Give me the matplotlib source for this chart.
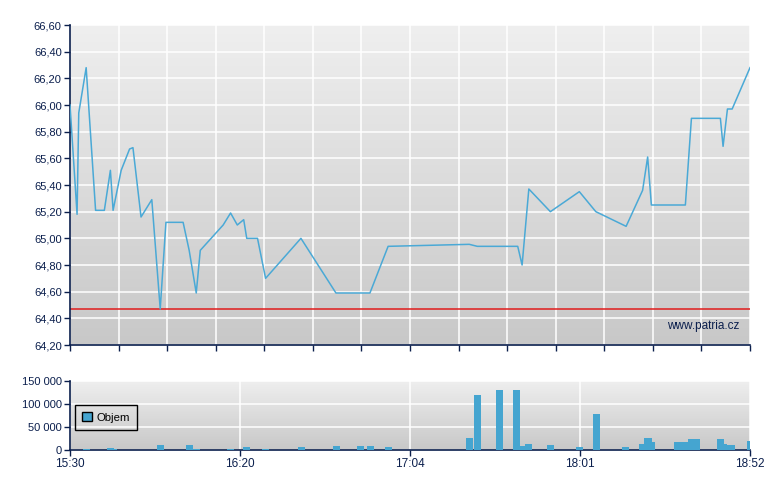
import numpy as np
import matplotlib
matplotlib.use('Agg')
import matplotlib.pyplot as plt
from matplotlib.ticker import FuncFormatter
from matplotlib.patches import Patch
from matplotlib.colors import LinearSegmentedColormap

# minutes since 15:30 (session runs 15:30 - 18:52)
price_t = [0, 2.1, 2.6, 4.8, 7.6, 10.2, 12.0, 12.8, 15.2, 17.7, 18.7, 21.1, 24.3,
           26.8, 28.5, 33.6, 35.4, 37.5, 38.7, 45.5, 47.7, 49.7, 51.6, 52.5, 55.7,
           58.1, 68.6, 79.0, 89.1, 94.5, 118.6, 121.0, 133.0, 134.3, 136.3, 142.7,
           151.3, 156.2, 165.2, 170.1, 171.6, 172.7, 182.8, 184.6, 193.2, 194.0,
           195.3, 196.7, 202]
price = [66.00, 65.18, 65.94, 66.28, 65.21, 65.21, 65.51, 65.21, 65.51, 65.67, 65.68,
         65.16, 65.29, 64.47, 65.12, 65.12, 64.91, 64.59, 64.91, 65.10, 65.19, 65.10,
         65.14, 65.00, 65.00, 64.70, 65.00, 64.59, 64.59, 64.94, 64.955, 64.94, 64.94,
         64.80, 65.37, 65.20, 65.35, 65.20, 65.09, 65.36, 65.61, 65.25, 65.25, 65.90,
         65.90, 65.69, 65.97, 65.97, 66.28]
prev_close = 64.47

vol_t = [4.9, 12.0, 12.9, 26.9, 35.5, 37.6, 47.7, 52.4, 58.1, 68.8, 79.2, 86.3, 89.3,
         94.6, 118.7, 121.0, 127.6, 132.6, 134.4, 136.2, 142.7, 151.3, 156.4, 165.0,
         170.1, 171.7, 172.7, 180.5, 182.7, 184.6, 186.1, 193.2, 194.1, 196.4, 202.1]
volume = [2500, 5000, 2000, 10700, 10700, 2000, 2000, 6400, 2000, 6400, 8600, 8600, 8600,
          6400, 25700, 118000, 130700, 130700, 8600, 12900, 10700, 6400, 77100, 6400,
          12900, 25700, 17100, 17100, 17100, 23600, 23600, 23600, 12900, 10700, 19300]

time_labels = ['15:30', '16:20', '17:04', '18:01', '18:52']

NAVY = '#0b1f4d'
BLUE = '#45a5d0'
T_END = 202

plt.rcParams['font.family'] = ['Liberation Sans', 'DejaVu Sans']
plt.rcParams['font.size'] = 8

fig = plt.figure(figsize=(7.8, 4.9), dpi=100)
ax = fig.add_axes([70/780, 145/490, 680/780, 320/490])
axv = fig.add_axes([70/780, 40/490, 680/780, 69.3/490])

grad = np.linspace(0, 1, 256).reshape(-1, 1)
cmap = LinearSegmentedColormap.from_list('bg', ['#efefef', '#c8c8c8'])

for a in (ax, axv):
    a.imshow(grad, cmap=cmap, aspect='auto', extent=[0, 1, 0, 1],
             transform=a.transAxes, zorder=0)
    for s in ('top', 'right'):
        a.spines[s].set_visible(False)
    for s in ('left', 'bottom'):
        a.spines[s].set_color(NAVY)
        a.spines[s].set_linewidth(1.2)
    a.tick_params(colors=NAVY, labelcolor=NAVY, length=4, width=1, pad=2)
    a.grid(True, color='white', lw=1.1, zorder=1)
    a.set_axisbelow(True)
    a.set_xlim(0, T_END)

# price panel
ax.plot(price_t, price, color='#4aa9d6', lw=1.1, zorder=3)
ax.axhline(prev_close, color='#e01c1c', lw=1.1, zorder=2)
ax.set_ylim(64.20, 66.60)
ax.set_yticks(np.arange(64.20, 66.61, 0.20))
ax.yaxis.set_major_formatter(FuncFormatter(lambda v, p: f'{v:.2f}'.replace('.', ',')))
ax.set_xticks(np.linspace(0, T_END, 15))
ax.set_xticklabels([])
ax.text(0.985, 0.06, 'www.patria.cz', transform=ax.transAxes, ha='right', va='center',
        color=NAVY, fontsize=8.5, zorder=4)

# volume panel
axv.bar(vol_t, volume, width=2.2, color=BLUE, zorder=3)
axv.set_ylim(0, 150000)
axv.set_yticks([0, 50000, 100000, 150000])
axv.yaxis.set_major_formatter(FuncFormatter(lambda v, p: f'{int(v):,}'.replace(',', ' ')))
axv.set_xticks(np.linspace(0, T_END, len(time_labels)))
axv.set_xticklabels(time_labels)
axv.tick_params(axis='x', labelsize=8.5)
leg = axv.legend(handles=[Patch(facecolor=BLUE, edgecolor='black', label='Objem')],
                 loc='upper left', bbox_to_anchor=(0.0074, 0.65), borderaxespad=0,
                 frameon=True, fancybox=False, edgecolor='black', handlelength=0.8,
                 handleheight=0.8, borderpad=0.65, handletextpad=0.4, fontsize=8.2)
frame = leg.get_frame()
frame.set_facecolor('none')
frame.set_alpha(None)
frame.set_linewidth(1)

fig.savefig('out.png', dpi=100)
